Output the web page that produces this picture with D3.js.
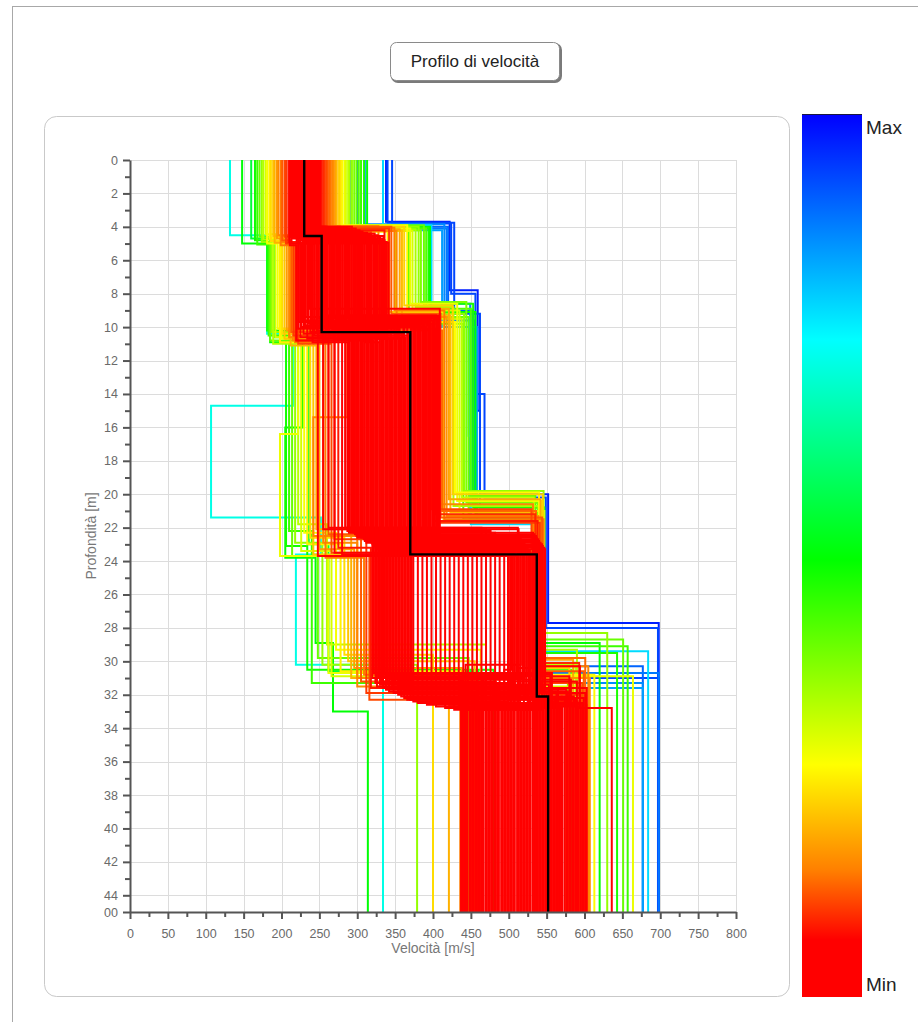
<!DOCTYPE html>
<html>
<head>
<meta charset="utf-8">
<script src="https://cdn.jsdelivr.net/npm/d3@7"></script>
<style>
  html, body { margin: 0; padding: 0; background: #fff; }
  svg { display: block; }
</style>
</head>
<body>
<div id="chart"></div>
<script>
// Shear-wave velocity models from the inversion.
// Each row: [misfit, v1, z1, v2, z2, ..., vN]; misfit 0 = Min, 1 = Max,
// v in m/s, z = depth (m) of the bottom of each layer, last layer runs to the base.
const bestModel = [230, 4.55, 253, 10.3, 370, 23.6, 537, 32.1, 552];

const coreModels = [
  [0.02, 211, 5.1, 220, 10.8, 262, 22.0, 320, 31.0, 437],
  [0.04, 228, 4.3, 222, 10.1, 325, 23.3, 366, 32.3, 502],
  [0.03, 245, 4.8, 223, 9.7, 374, 22.8, 488, 32.6, 567],
  [0.05, 221, 4.1, 225, 10.6, 289, 22.3, 532, 31.9, 464],
  [0.01, 238, 5.0, 226, 10.0, 337, 23.6, 344, 31.1, 529],
  [0.06, 214, 4.5, 228, 9.6, 386, 23.1, 422, 32.6, 595],
  [0.02, 231, 4.2, 229, 10.4, 300, 22.6, 515, 32.7, 492],
  [0.04, 248, 4.9, 231, 9.9, 349, 22.1, 322, 30.7, 557],
  [0.03, 224, 4.4, 232, 9.4, 397, 23.4, 368, 31.9, 454],
  [0.05, 241, 5.05, 234, 10.7, 312, 22.9, 494, 32.8, 519],
  [0.01, 217, 4.0, 235, 9.8, 361, 22.4, 534, 32.6, 584],
  [0.06, 234, 4.7, 237, 8.9, 409, 23.7, 346, 31.6, 481],
  [0.02, 251, 4.6, 238, 10.3, 324, 23.2, 428, 32.9, 546],
  [0.04, 227, 4.15, 240, 10.0, 372, 22.7, 516, 30.2, 443],
  [0.03, 244, 4.95, 241, 10.9, 287, 22.2, 324, 31.3, 508],
  [0.05, 220, 4.35, 243, 10.5, 335, 23.5, 370, 32.3, 574],
  [0.01, 237, 4.75, 244, 9.8, 384, 23.0, 499, 32.4, 471],
  [0.06, 213, 4.05, 246, 10.2, 299, 22.5, 536, 31.3, 536],
  [0.02, 230, 4.55, 248, 10.6, 347, 22.0, 348, 31.9, 601],
  [0.04, 247, 4.85, 249, 9.5, 396, 23.3, 434, 32.7, 498],
  [0.03, 223, 4.25, 251, 10.0, 310, 22.8, 518, 31.8, 563],
  [0.05, 240, 4.65, 252, 10.4, 359, 22.3, 326, 31.5, 460],
  [0.01, 216, 4.1, 254, 9.3, 407, 23.6, 372, 32.0, 525],
  [0.06, 233, 4.45, 255, 10.8, 322, 23.1, 500, 31.2, 590],
  [0.02, 250, 4.9, 257, 9.7, 371, 22.6, 537, 32.0, 487],
  [0.04, 226, 4.0, 258, 10.9, 255, 22.1, 350, 31.4, 553],
  [0.03, 243, 4.0, 260, 10.2, 334, 23.4, 440, 32.9, 450],
  [0.05, 219, 4.2, 261, 9.9, 382, 22.9, 520, 32.5, 515],
  [0.01, 236, 4.45, 263, 10.5, 297, 22.4, 328, 30.9, 580],
  [0.06, 212, 4.1, 264, 9.9, 345, 23.7, 374, 32.4, 477],
  [0.02, 229, 4.3, 266, 9.7, 394, 23.2, 502, 32.8, 542],
  [0.04, 246, 4.55, 267, 10.3, 309, 22.7, 539, 30.8, 439],
  [0.03, 222, 4.05, 269, 10.7, 357, 22.2, 352, 31.0, 504],
  [0.05, 239, 4.25, 270, 9.4, 406, 23.5, 446, 32.8, 569],
  [0.01, 215, 4.4, 272, 10.1, 320, 23.0, 521, 31.0, 466],
  [0.06, 232, 4.15, 274, 10.5, 369, 22.5, 330, 31.4, 532],
  [0.02, 249, 4.6, 275, 10.7, 284, 22.0, 380, 32.5, 597],
  [0.04, 225, 4.0, 277, 9.8, 332, 23.3, 504, 30.5, 494],
  [0.03, 242, 4.35, 278, 9.8, 381, 22.8, 540, 32.4, 559],
  [0.05, 218, 4.5, 280, 10.0, 295, 22.3, 354, 32.0, 456],
  [0.01, 235, 4.1, 281, 10.4, 344, 23.6, 452, 32.6, 521],
  [0.06, 251, 4.2, 283, 9.6, 392, 23.1, 523, 32.1, 586],
  [0.02, 234, 4.45, 284, 10.6, 307, 22.6, 332, 31.2, 483],
  [0.04, 217, 4.05, 286, 10.1, 356, 22.1, 386, 32.2, 548],
  [0.03, 241, 4.3, 287, 9.3, 404, 23.4, 505, 32.0, 445],
  [0.05, 224, 4.55, 289, 9.9, 319, 22.9, 542, 31.7, 511],
  [0.01, 248, 4.15, 290, 10.3, 367, 22.4, 356, 31.7, 576],
  [0.06, 231, 4.4, 292, 10.8, 248, 23.7, 458, 32.9, 473],
  [0.02, 214, 4.0, 293, 10.5, 330, 23.2, 524, 30.7, 538],
  [0.04, 238, 4.25, 295, 9.7, 379, 22.7, 334, 31.6, 603],
  [0.03, 221, 4.5, 297, 10.2, 294, 22.2, 392, 32.6, 500],
  [0.05, 245, 4.1, 298, 10.7, 342, 23.5, 507, 31.6, 565],
  [0.01, 228, 4.35, 300, 9.7, 391, 23.0, 544, 32.9, 462],
  [0.06, 211, 4.6, 301, 10.4, 305, 22.5, 358, 32.1, 527],
  [0.02, 235, 4.2, 303, 9.8, 354, 22.0, 464, 32.7, 592],
  [0.04, 218, 4.45, 304, 9.5, 402, 23.3, 526, 32.8, 490],
  [0.03, 242, 4.3, 306, 10.6, 317, 22.8, 336, 30.8, 555],
  [0.05, 225, 4.3, 307, 10.0, 366, 22.3, 398, 32.4, 452],
  [0.01, 249, 4.5, 309, 10.3, 280, 23.6, 508, 32.9, 517],
  [0.06, 232, 4.4, 310, 10.9, 329, 23.1, 545, 31.1, 582],
  [0.02, 215, 4.7, 312, 9.6, 377, 22.6, 360, 31.5, 479],
  [0.04, 239, 4.35, 313, 10.5, 292, 22.1, 470, 32.8, 544],
  [0.03, 222, 4.6, 315, 10.2, 340, 23.4, 528, 31.5, 441],
  [0.05, 246, 4.8, 316, 9.8, 389, 22.9, 338, 31.7, 506],
  [0.01, 229, 4.45, 318, 10.8, 304, 22.4, 404, 32.7, 571],
  [0.06, 212, 4.55, 319, 9.9, 352, 23.7, 510, 30.9, 469],
  [0.02, 236, 4.9, 321, 9.4, 401, 23.2, 547, 32.3, 534],
  [0.04, 219, 4.4, 323, 10.4, 315, 22.7, 362, 32.2, 599],
  [0.03, 243, 4.65, 324, 10.6, 364, 22.2, 476, 32.5, 496],
  [0.05, 226, 4.75, 326, 10.1, 270, 23.5, 529, 32.2, 561],
  [0.01, 250, 4.5, 327, 10.7, 327, 23.0, 340, 31.3, 458],
  [0.06, 233, 4.85, 329, 9.8, 376, 22.5, 410, 32.5, 523],
  [0.02, 216, 4.6, 330, 10.0, 290, 22.0, 512, 32.3, 588],
  [0.04, 240, 4.95, 332, 10.3, 339, 23.3, 548, 31.5, 485],
  [0.03, 223, 4.7, 333, 9.7, 387, 22.8, 364, 31.8, 550],
  [0.05, 247, 4.55, 335, 10.6, 302, 22.3, 482, 32.9, 448],
  [0.01, 230, 4.8, 336, 10.2, 350, 23.6, 531, 30.4, 513],
  [0.06, 213, 5.0, 338, 9.6, 399, 23.1, 342, 31.8, 578],
  [0.02, 237, 4.9, 339, 10.5, 314, 22.6, 416, 32.8, 475],
  [0.04, 220, 4.95, 341, 9.9, 362, 22.1, 513, 31.4, 540],
  [0.04, 240, 4.4, 300, 10.0, 390, 22.8, 540, 30.3, 594, 32.8, 636]
];

// models faster than the core
const fastModels = [
  [0.08, 253, 4.2, 336, 9.8, 400, 21.6, 538, 32.4, 591],
  [0.09, 255, 4.4, 300, 10.1, 403, 21.2, 535, 30.1, 593],
  [0.10, 257, 4.1, 342, 9.5, 406, 21.7, 541, 32.0, 595],
  [0.11, 259, 4.3, 318, 9.9, 398, 20.9, 530, 31.3, 597],
  [0.12, 261, 4.0, 345, 9.2, 410, 21.4, 544, 30.6, 599],
  [0.13, 263, 4.35, 290, 10.2, 412, 21.0, 536, 29.8, 601],
  [0.14, 265, 4.05, 349, 9.0, 415, 21.5, 546, 32.6, 603],
  [0.15, 267, 4.25, 352, 9.6, 408, 20.6, 532, 30.3, 605],
  [0.16, 269, 3.95, 328, 9.4, 418, 21.3, 539, 31.0, 607],
  [0.18, 271, 4.15, 356, 8.9, 421, 20.3, 542, 29.9, 585],
  [0.20, 273, 4.2, 359, 9.3, 423, 21.1, 534, 31.8, 570],
  [0.22, 276, 4.0, 362, 8.7, 426, 20.0, 545, 30.4, 580],
  [0.24, 278, 4.3, 340, 9.1, 414, 21.6, 537, 32.2, 575],
  [0.26, 280, 3.9, 366, 9.7, 429, 19.9, 540, 30.8, 613],
  [0.28, 283, 4.1, 370, 8.6, 432, 20.4, 543, 30.9, 664],
  [0.30, 285, 4.25, 373, 9.0, 435, 21.0, 547, 31.5, 596],
  [0.32, 288, 3.95, 350, 9.5, 438, 20.2, 533, 30.2, 588],
  [0.34, 290, 4.15, 377, 8.8, 427, 20.7, 541, 29.3, 590],
  [0.36, 293, 4.0, 381, 9.2, 441, 19.8, 546, 28.3, 630],
  [0.38, 296, 4.2, 384, 8.5, 444, 20.5, 538, 31.2, 578],
  [0.40, 299, 3.9, 388, 9.4, 447, 21.3, 544, 28.7, 651],
  [0.42, 302, 4.1, 391, 8.9, 450, 20.1, 535, 30.5, 583],
  [0.44, 305, 3.95, 368, 9.8, 440, 21.5, 542, 29.1, 657],
  [0.47, 309, 4.05, 394, 8.6, 453, 20.8, 547, 29.5, 643],
  [0.50, 313, 4.0, 396, 9.1, 456, 21.2, 539, 28.9, 620]
];

// models slower than the core
const slowModels = [
  [0.08, 209, 4.9, 219, 10.8, 275, 23.2, 318, 31.6, 445],
  [0.10, 206, 5.0, 216, 10.5, 270, 22.7, 312, 31.9, 452],
  [0.11, 204, 4.6, 222, 11.0, 266, 23.5, 316, 32.3, 440],
  [0.12, 201, 4.8, 213, 10.3, 262, 22.4, 305, 31.2, 458],
  [0.14, 199, 5.1, 218, 10.9, 258, 23.8, 309, 30.8, 436],
  [0.15, 196, 4.5, 210, 10.6, 255, 22.9, 300, 31.5, 448],
  [0.17, 194, 4.7, 207, 10.2, 250, 23.3, 296, 30.4, 438],
  [0.19, 191, 4.95, 212, 11.1, 246, 22.1, 292, 31.0, 421],
  [0.21, 189, 4.55, 204, 10.7, 242, 23.6, 288, 30.0, 455],
  [0.23, 186, 4.85, 201, 10.4, 238, 22.6, 283, 29.6, 400],
  [0.25, 184, 4.65, 198, 10.9, 234, 23.0, 278, 30.6, 442],
  [0.27, 181, 5.0, 195, 10.1, 230, 22.3, 272, 29.3, 463],
  [0.30, 179, 4.45, 192, 10.6, 226, 23.4, 266, 30.9, 450],
  [0.33, 176, 4.75, 189, 11.0, 222, 21.8, 260, 29.0, 470],
  [0.36, 174, 4.9, 187, 10.3, 218, 22.9, 254, 30.2, 379],
  [0.40, 171, 4.6, 185, 10.8, 214, 23.7, 248, 29.8, 447],
  [0.44, 168, 5.05, 183, 10.5, 210, 22.2, 240, 31.3, 457],
  [0.48, 165, 4.8, 181, 10.2, 206, 23.1, 234, 30.5, 480],
  [0.28, 185, 4.7, 200, 10.7, 222, 16.4, 198, 23.7, 262, 30.7, 445],
  [0.15, 200, 4.9, 215, 10.8, 287, 15.4, 242, 22.5, 300, 31.0, 450]
];

// high-misfit models
const outlierModels = [
  [0.72, 132, 4.5, 181, 10.4, 215, 14.7, 107, 21.4, 252, 23.6, 219, 30.2, 334],
  [0.50, 148, 5.0, 185, 10.9, 228, 16.0, 205, 23.8, 245, 28.9, 268, 33.0, 314],
  [0.55, 160, 4.7, 190, 10.6, 236, 23.0, 262, 30.6, 460],
  [0.97, 338, 3.7, 422, 7.8, 459, 15.0, 462, 20.0, 552, 27.7, 698],
  [0.93, 346, 3.8, 424, 8.0, 456, 14.0, 468, 20.2, 549, 28.0, 697],
  [0.78, 334, 3.9, 398, 9.4, 447, 16.5, 450, 21.8, 545, 29.4, 684],
  [0.90, 290, 4.0, 420, 9.0, 452, 20.5, 540, 30.3, 677],
  [0.88, 300, 4.1, 418, 9.6, 455, 21.0, 543, 30.7, 698],
  [0.93, 340, 3.75, 428, 9.2, 462, 20.8, 546, 31.0, 698],
  [0.86, 310, 3.85, 415, 8.6, 449, 21.4, 542, 31.3, 677],
  [0.84, 290, 4.2, 412, 10.0, 458, 21.6, 538, 31.6, 677]
];

const velocityTicks = [0, 50, 100, 150, 200, 250, 300, 350, 400, 450, 500, 550, 600, 650, 700, 750, 800];
const velocityMinor = [25, 75, 125, 175, 225, 275, 325, 375, 425, 475, 525, 575, 625, 675, 725, 775];
const depthTicks = [0, 2, 4, 6, 8, 10, 12, 14, 16, 18, 20, 22, 24, 26, 28, 30, 32, 34, 36, 38, 40, 42, 44];
const depthMinor = [1, 3, 5, 7, 9, 11, 13, 15, 17, 19, 21, 23, 25, 27, 29, 31, 33, 35, 37, 39, 41, 43];
const depthBase = 45;
const depthBaseLabel = "00";

const misfitStops = [0, 0.065, 0.144, 0.263, 0.495, 0.744, 1];
const misfitColors = ["#ff0000", "#ff0000", "#ff8000", "#ffff00", "#00ff00", "#00ffff", "#0000ff"];

const W = 918, H = 1022;
const svg = d3.select("#chart").append("svg").attr("width", W).attr("height", H);
const font = "'Liberation Sans', Arial, sans-serif";

svg.append("rect").attr("width", W).attr("height", H).attr("fill", "#fff");
// window frame
svg.append("rect").attr("x", 12.5).attr("y", 6.5).attr("width", W + 20).attr("height", H + 20)
  .attr("fill", "none").attr("stroke", "#a8a8a8");

// title box
svg.append("rect").attr("x", 391).attr("y", 43).attr("width", 171).attr("height", 40).attr("rx", 7)
  .attr("fill", "#7a7a7a");
svg.append("rect").attr("x", 390.5).attr("y", 42.5).attr("width", 169).attr("height", 38).attr("rx", 6)
  .attr("fill", "#fff").attr("stroke", "#8a8a8a");
svg.append("text").attr("x", 475).attr("y", 67).attr("text-anchor", "middle")
  .attr("font-family", font).attr("font-size", 17).attr("fill", "#222")
  .text("Profilo di velocità");

// chart panel
svg.append("rect").attr("x", 44.5).attr("y", 116.5).attr("width", 745).attr("height", 880).attr("rx", 12)
  .attr("fill", "#fff").attr("stroke", "#c9c9c9");

const x = d3.scaleLinear().domain([0, 800]).range([130, 736]);
const y = d3.scaleLinear().domain([0, depthBase]).range([160, 912]);
const color = d3.scaleLinear().domain(misfitStops).range(misfitColors).clamp(true);

// grid
const grid = svg.append("g").attr("stroke", "#dcdcdc").attr("stroke-width", 1);
grid.selectAll("line.v").data(velocityTicks.filter(d => d > 0)).join("line")
  .attr("x1", d => Math.round(x(d)) + 0.5).attr("x2", d => Math.round(x(d)) + 0.5)
  .attr("y1", y(0)).attr("y2", y(depthBase));
grid.selectAll("line.h").data(depthTicks).join("line")
  .attr("y1", d => Math.round(y(d)) + 0.5).attr("y2", d => Math.round(y(d)) + 0.5)
  .attr("x1", x(0)).attr("x2", x(800));

// profiles
svg.append("clipPath").attr("id", "plotClip").append("rect")
  .attr("x", x(0)).attr("y", y(0)).attr("width", x(800) - x(0)).attr("height", y(depthBase) - y(0));

function stepPoints(values) {
  const pts = [];
  let top = 0;
  for (let k = 0; k < values.length; k += 2) {
    const v = values[k];
    const bottom = k + 1 < values.length ? values[k + 1] : depthBase;
    pts.push([v, top], [v, bottom]);
    top = bottom;
  }
  return pts;
}
const line = d3.line().x(d => x(d[0])).y(d => y(d[1]));

const models = [...outlierModels, ...slowModels, ...fastModels, ...coreModels]
  .map(r => ({ misfit: r[0], values: r.slice(1) }))
  .sort((a, b) => b.misfit - a.misfit);

const gProfiles = svg.append("g").attr("clip-path", "url(#plotClip)");
gProfiles.selectAll("path.model").data(models).join("path")
  .attr("class", "model")
  .attr("d", d => line(stepPoints(d.values)))
  .attr("fill", "none")
  .attr("stroke", d => color(d.misfit))
  .attr("stroke-width", 2);
gProfiles.append("path")
  .attr("d", line(stepPoints(bestModel)))
  .attr("fill", "none").attr("stroke", "#000").attr("stroke-width", 2.4);

// axes
function styleAxis(g) {
  g.select(".domain").attr("stroke", "#555").attr("stroke-width", 2);
  g.selectAll(".tick line").attr("stroke", "#555").attr("stroke-width", 2);
  g.selectAll(".tick text").attr("font-family", font).attr("font-size", 12.5).attr("fill", "#6a6a6a");
}
const yAxis = d3.axisLeft(y).tickValues([...depthTicks, depthBase]).tickSize(7).tickSizeOuter(0)
  .tickPadding(5).tickFormat(d => d === depthBase ? depthBaseLabel : d);
svg.append("g").attr("transform", `translate(${x(0)},0)`).call(yAxis).call(styleAxis);
svg.append("g").attr("transform", `translate(${x(0)},0)`)
  .call(d3.axisLeft(y).tickValues(depthMinor).tickSize(5).tickSizeOuter(0).tickFormat(""))
  .call(styleAxis).call(g => g.select(".domain").remove());

const xAxis = d3.axisBottom(x).tickValues(velocityTicks).tickSize(7).tickSizeOuter(0).tickPadding(10);
svg.append("g").attr("transform", `translate(0,${y(depthBase)})`).call(xAxis).call(styleAxis);
svg.append("g").attr("transform", `translate(0,${y(depthBase)})`)
  .call(d3.axisBottom(x).tickValues(velocityMinor).tickSize(5).tickSizeOuter(0).tickFormat(""))
  .call(styleAxis).call(g => g.select(".domain").remove());

svg.append("text").attr("x", (x(0) + x(800)) / 2).attr("y", 953).attr("text-anchor", "middle")
  .attr("font-family", font).attr("font-size", 14).attr("fill", "#777")
  .text("Velocità [m/s]");
svg.append("text").attr("transform", `translate(96,${(y(0) + y(depthBase)) / 2}) rotate(-90)`)
  .attr("text-anchor", "middle")
  .attr("font-family", font).attr("font-size", 14).attr("fill", "#777")
  .text("Profondità [m]");

// colour bar
const grad = svg.append("defs").append("linearGradient").attr("id", "misfitGrad")
  .attr("x1", 0).attr("y1", 0).attr("x2", 0).attr("y2", 1);
grad.selectAll("stop").data(misfitStops.map((s, i) => ({ s, c: misfitColors[i] })).reverse()).join("stop")
  .attr("offset", d => (1 - d.s) * 100 + "%").attr("stop-color", d => d.c);
svg.append("rect").attr("x", 802).attr("y", 114).attr("width", 60).attr("height", 883)
  .attr("fill", "url(#misfitGrad)");
svg.append("line").attr("x1", 802).attr("x2", 862).attr("y1", 114.5).attr("y2", 114.5)
  .attr("stroke", "#1a1a40").attr("stroke-width", 1);
svg.append("text").attr("x", 866).attr("y", 134).attr("font-family", font).attr("font-size", 19)
  .attr("fill", "#222").text("Max");
svg.append("text").attr("x", 866).attr("y", 991).attr("font-family", font).attr("font-size", 19)
  .attr("fill", "#222").text("Min");
</script>
</body>
</html>
